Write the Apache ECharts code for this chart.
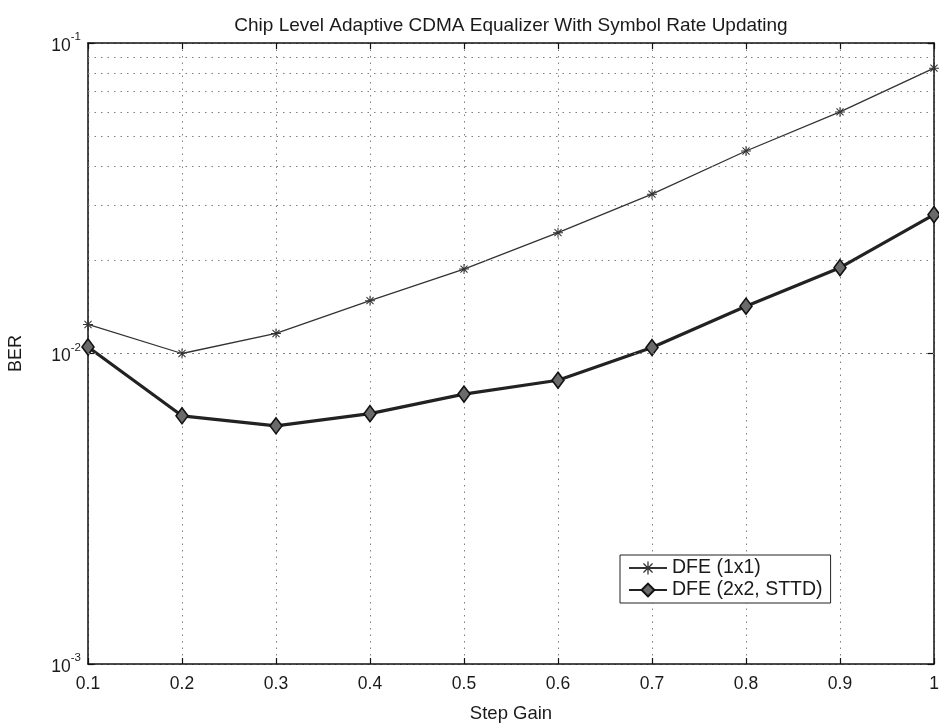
<!DOCTYPE html>
<html>
<head>
<meta charset="utf-8">
<style>
  html, body { margin: 0; padding: 0; background: #fff; }
  #chart { width: 939px; height: 723px; }
</style>
<script src="https://cdn.jsdelivr.net/npm/echarts@6/dist/echarts.min.js"></script>
</head>
<body>
<div id="chart"></div>
<script>
// ---- data ----
const stepGain = [0.1, 0.2, 0.3, 0.4, 0.5, 0.6, 0.7, 0.8, 0.9, 1.0];
const ber1x1   = [0.0124, 0.0100, 0.0116, 0.0148, 0.0187, 0.0245, 0.0326, 0.0449, 0.0600, 0.0830];
const ber2x2   = [0.0105, 0.0063, 0.00585, 0.0064, 0.0074, 0.0082, 0.01045, 0.0142, 0.0189, 0.0280];
const seriesNames = ['DFE (1x1)', 'DFE (2x2, STTD)'];
const minorGridValues = [0.002, 0.003, 0.004, 0.005, 0.006, 0.007, 0.008, 0.009,
                         0.02, 0.03, 0.04, 0.05, 0.06, 0.07, 0.08, 0.09];
const titleText = 'Chip Level Adaptive CDMA Equalizer With Symbol Rate Updating';

const FONT = 'Liberation Sans, Arial, Helvetica, sans-serif';
const TXT = '#1a1a1a';
const gridDot = { color: '#808080', width: 1, type: [1.5, 5] };

const starPath = 'path://M-0.5,-5L0.5,-5L0.5,5L-0.5,5Z M-5,-0.5L5,-0.5L5,0.5L-5,0.5Z M-3.9,-3.2L-3.2,-3.9L3.9,3.2L3.2,3.9Z M3.2,-3.9L3.9,-3.2L-3.2,3.9L-3.9,3.2Z';

const chart = echarts.init(document.getElementById('chart'), null, { renderer: 'canvas' });

const xCommon = {
  type: 'value', min: 0.1, max: 1.0, interval: 0.1,
  axisLine: { show: true, onZero: false, lineStyle: { color: '#111', width: 1.5 } },
  axisTick: { show: true, inside: true, length: 6, lineStyle: { color: '#111', width: 1.2 } }
};
const yCommon = {
  type: 'log', logBase: 10, min: 0.001, max: 0.1, interval: 1,
  axisLine: { show: true, onZero: false, lineStyle: { color: '#111', width: 1.5 } },
  axisTick: { show: true, inside: true, length: 6, lineStyle: { color: '#111', width: 1.2 } }
};

chart.setOption({
  animation: false,
  backgroundColor: '#fff',
  textStyle: { fontFamily: FONT },
  title: {
    text: titleText, left: 506, top: 11, textAlign: 'center',
    textStyle: { fontFamily: FONT, fontSize: 19, fontWeight: 'normal', color: TXT }
  },
  grid: { left: 88, right: 5, top: 43, bottom: 59, outerBoundsMode: 'none', containLabel: false },
  legend: {
    data: seriesNames,
    orient: 'vertical',
    left: 620, top: 555,
    padding: [3, 8, 3, 8],
    itemGap: 2,
    itemWidth: 38, itemHeight: 16,
    backgroundColor: '#fff',
    borderColor: '#222', borderWidth: 1,
    textStyle: { fontFamily: FONT, fontSize: 19.5, color: TXT }
  },
  xAxis: [
    Object.assign({}, xCommon, {
      position: 'bottom',
      name: 'Step Gain', nameLocation: 'middle', nameGap: 40,
      nameTextStyle: { fontFamily: FONT, fontSize: 18.5, color: TXT },
      axisLabel: {
        show: true, margin: 11, fontFamily: FONT, fontSize: 17.5, color: TXT,
        formatter: v => String(+v.toFixed(1))
      },
      splitLine: { show: true, lineStyle: gridDot }
    }),
    Object.assign({}, xCommon, {
      position: 'top',
      axisLabel: { show: false },
      splitLine: { show: false }
    })
  ],
  yAxis: [
    Object.assign({}, yCommon, {
      position: 'left',
      name: 'BER', nameLocation: 'middle', nameGap: 63, nameRotate: 90,
      nameTextStyle: { fontFamily: FONT, fontSize: 18, color: TXT },
      axisLabel: {
        show: true, margin: 7,
        formatter: v => '{b|10}{s|' + Math.round(Math.log10(v)) + '}',
        rich: {
          b: { fontFamily: FONT, fontSize: 17.5, color: TXT, lineHeight: 24, verticalAlign: 'bottom' },
          s: { fontFamily: FONT, fontSize: 11.5, color: TXT, lineHeight: 24, verticalAlign: 'top' }
        }
      },
      splitLine: { show: true, lineStyle: gridDot }
    }),
    Object.assign({}, yCommon, {
      position: 'right',
      axisLabel: { show: false },
      splitLine: { show: false }
    })
  ],
  series: [
    {
      name: '__grid', type: 'line', xAxisIndex: 0, yAxisIndex: 0, z: 1,
      data: stepGain.map((x, i) => [x, ber1x1[i]]),
      symbol: 'none', lineStyle: { opacity: 0 }, silent: true, tooltip: { show: false },
      markLine: {
        silent: true, symbol: ['none', 'none'], label: { show: false },
        lineStyle: gridDot, emphasis: { disabled: true },
        data: minorGridValues.map(v => ({ yAxis: v }))
      }
    },
    {
      name: seriesNames[0], type: 'line', xAxisIndex: 0, yAxisIndex: 0, z: 3,
      data: stepGain.map((x, i) => [x, ber1x1[i]]),
      symbol: starPath, symbolSize: 10, symbolKeepAspect: true,
      lineStyle: { color: '#333', width: 1.3 },
      itemStyle: { color: '#333' }
    },
    {
      name: seriesNames[1], type: 'line', xAxisIndex: 0, yAxisIndex: 0, z: 4,
      data: stepGain.map((x, i) => [x, ber2x2[i]]),
      symbol: 'diamond', symbolSize: [12, 16],
      lineStyle: { color: '#222', width: 3.2 },
      itemStyle: { color: '#6a6a6a', borderColor: '#111', borderWidth: 1.6 }
    }
  ]
});
</script>
</body>
</html>
